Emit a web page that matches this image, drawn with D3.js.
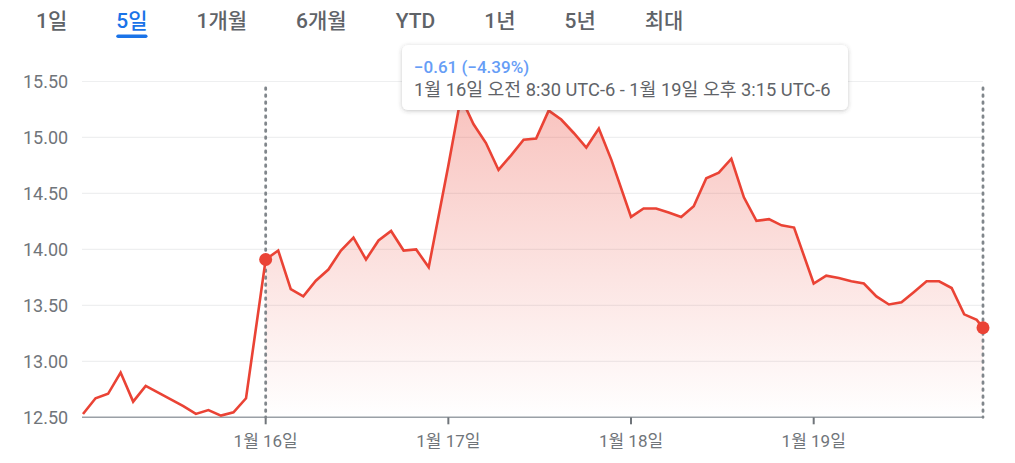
<!DOCTYPE html>
<html><head><meta charset="utf-8">
<script src="https://cdn.jsdelivr.net/npm/d3@7"></script>
<style>
html,body{margin:0;padding:0;background:#fff;}
svg{display:block;font-family:Roboto,"Noto Sans CJK KR",sans-serif;}
</style></head><body>
<svg id="chart" width="1015" height="463"></svg>
<script>
// ---- data ----
const tabs = ["1일", "5일", "1개월", "6개월", "YTD", "1년", "5년", "최대"];
const activeTab = "5일";
const yTicks = [12.5, 13, 13.5, 14, 14.5, 15, 15.5];
const sessionDays = ["1월 12일", "1월 16일", "1월 17일", "1월 18일", "1월 19일"];
const xTickLabels = ["1월 16일", "1월 17일", "1월 18일", "1월 19일"];
const sessionTimes = ["8:30","9:00","9:30","10:00","10:30","11:00","11:30","12:00","12:30","13:00","13:30","14:00","14:30","15:00","15:15"];
const prices0112 = [12.53,12.67,12.71,12.90,12.64,12.78,12.72,12.66,12.60,12.53,12.565,12.515,12.545,12.67];
const prices0116 = [13.91,13.99,13.645,13.58,13.72,13.82,13.99,14.105,13.91,14.08,14.165,13.99,14.00,13.84];
const prices0117 = [14.75,15.36,15.12,14.95,14.71,14.84,14.98,14.99,15.24,15.16,15.04,14.91,15.08,14.80];
const prices0118 = [14.29,14.365,14.365,14.33,14.29,14.385,14.635,14.685,14.81,14.465,14.255,14.27,14.215,14.195];
const prices0119 = [13.695,13.765,13.745,13.715,13.695,13.58,13.508,13.527,13.62,13.715,13.715,13.655,13.42,13.37,13.30];
const rangeLabel = "1월 16일 오전 8:30 UTC-6 - 1월 19일 오후 3:15 UTC-6";

// ---- build ----
const dayPrices = [prices0112, prices0116, prices0117, prices0118, prices0119];
const DAY = 437; // session + overnight gap, in minutes-equivalent
function mins(t){ const [h,m] = t.split(":").map(Number); return h*60 + m - 510; }
const points = [];
dayPrices.forEach((arr, d) => arr.forEach((v, i) => points.push({day: d, time: sessionTimes[i], v, u: d*DAY + mins(sessionTimes[i])})));

const svg = d3.select("#chart");
const x = d3.scaleLinear().domain([0, 4*DAY + mins("15:15")]).range([83, 983]);
const y = d3.scaleLinear().domain([12.5, 15.5]).range([417.3, 81.5]);
const plotL = 82, plotR = 983;

// tabs
let tx = 36;
const tabG = svg.append("g");
tabs.forEach(t => {
  const txt = tabG.append("text").attr("x", tx).attr("y", 28)
    .attr("font-size", 21).attr("font-weight", 500)
    .attr("fill", t === activeTab ? "#1a73e8" : "#5f6368").text(t);
  const w = txt.node().getComputedTextLength();
  if (t === activeTab) {
    tabG.append("rect").attr("x", tx).attr("y", 34.5).attr("width", w).attr("height", 3.5)
      .attr("rx", 1.75).attr("fill", "#1a73e8");
  }
  tx += w + 49;
});

// defs
const defs = svg.append("defs");
const grad = defs.append("linearGradient").attr("id", "fillGrad")
  .attr("gradientUnits", "userSpaceOnUse").attr("x1", 0).attr("x2", 0)
  .attr("y1", y(15.5)).attr("y2", y(12.5));
grad.append("stop").attr("offset", "0%").attr("stop-color", "#ea4335").attr("stop-opacity", 0.34);
grad.append("stop").attr("offset", "100%").attr("stop-color", "#ea4335").attr("stop-opacity", 0.0);
const filt = defs.append("filter").attr("id", "shadow").attr("x", "-10%").attr("y", "-30%").attr("width", "120%").attr("height", "170%");
filt.append("feDropShadow").attr("dx", 0).attr("dy", 1).attr("stdDeviation", 2)
  .attr("flood-color", "#3c4043").attr("flood-opacity", 0.3);

// grid
svg.append("g").selectAll("line").data(yTicks.filter(v => v > 12.5)).join("line")
  .attr("x1", plotL).attr("x2", plotR).attr("y1", d => y(d)).attr("y2", d => y(d))
  .attr("stroke", "#eeeff0").attr("stroke-width", 1.2);

// y labels
svg.append("g").selectAll("text").data(yTicks).join("text")
  .attr("x", 23).attr("y", d => y(d)).attr("dy", "0.36em")
  .attr("font-size", 18).attr("fill", "#70757a").text(d => d3.format(".2f")(d));

// area (selected range)
const sel = points.filter(p => p.day >= 1);
svg.append("path").datum(sel)
  .attr("d", d3.area().x(p => x(p.u)).y0(y(12.5)).y1(p => y(p.v)))
  .attr("fill", "url(#fillGrad)");

// axis baseline + ticks
const tickU = xTickLabels.map((_, i) => (i + 1) * DAY);
svg.append("line").attr("x1", plotL).attr("x2", plotR).attr("y1", y(12.5)).attr("y2", y(12.5))
  .attr("stroke", "#9aa0a6").attr("stroke-width", 1.5);
svg.append("g").selectAll("line").data(tickU).join("line")
  .attr("x1", d => x(d)).attr("x2", d => x(d)).attr("y1", y(12.5)).attr("y2", y(12.5) + 7)
  .attr("stroke", "#70757a").attr("stroke-width", 2);
svg.append("g").selectAll("text").data(xTickLabels).join("text")
  .attr("x", (d, i) => x(tickU[i])).attr("y", 447).attr("text-anchor", "middle")
  .attr("font-size", 17).attr("fill", "#70757a").text(d => d);

// dotted range markers
const first = sel[0], last = sel[sel.length - 1];
svg.append("g").selectAll("line").data([first, last]).join("line")
  .attr("x1", p => x(p.u)).attr("x2", p => x(p.u)).attr("y1", 88).attr("y2", y(12.5))
  .attr("stroke", "#80868b").attr("stroke-width", 2.8).attr("stroke-linecap", "round")
  .attr("stroke-dasharray", "1.4,5.6");

// line
svg.append("path").datum(points)
  .attr("d", d3.line().x(p => x(p.u)).y(p => y(p.v)))
  .attr("fill", "none").attr("stroke", "#ea4335").attr("stroke-width", 2.6)
  .attr("stroke-linejoin", "miter");

// end dots
svg.append("g").selectAll("circle").data([first, last]).join("circle")
  .attr("cx", p => x(p.u)).attr("cy", p => y(p.v)).attr("r", 6.5).attr("fill", "#ea4335");

// tooltip
const diff = last.v - first.v;
const pct = diff / first.v * 100;
const tip = svg.append("g");
tip.append("rect").attr("x", 402).attr("y", 45).attr("width", 446).attr("height", 65)
  .attr("rx", 6).attr("fill", "#fff").attr("filter", "url(#shadow)");
tip.append("text").attr("x", 414).attr("y", 73).attr("font-size", 17).attr("font-weight", 500)
  .attr("fill", "#669df6").text(`${d3.format(".2f")(diff)} (${d3.format(".2f")(pct)}%)`);
tip.append("text").attr("x", 414).attr("y", 96).attr("font-size", 18.3)
  .attr("fill", "#5f6368").text(rangeLabel);
</script>
</body></html>
